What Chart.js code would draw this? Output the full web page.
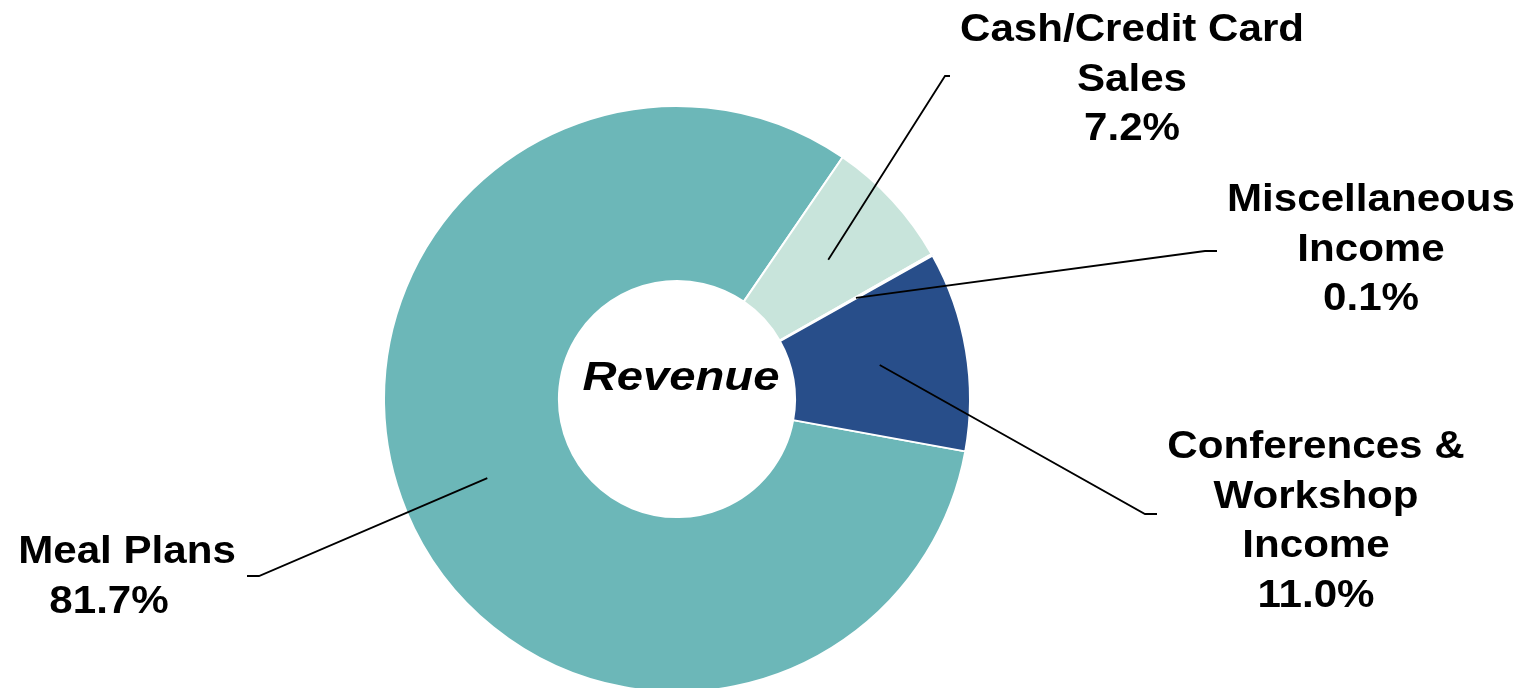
<!DOCTYPE html>
<html>
<head>
<meta charset="utf-8">
<script src="https://cdn.jsdelivr.net/npm/chart.js@4"></script>
<style>
    html, body { margin: 0; padding: 0; background: #fff; }
    #wrap { width: 1523px; height: 688px; position: relative; }
</style>
</head>
<body>
<div id="wrap"><canvas id="graficoReceita"></canvas></div>
<script>
// dados do grafico
const categorias = [
    ['Meal Plans'],
    ['Cash/Credit Card', 'Sales'],
    ['Miscellaneous', 'Income'],
    ['Conferences &', 'Workshop', 'Income']
];
const valores = [81.7, 7.2, 0.1, 11.0];
const cores = ['#6cb7b8', '#c8e4db', '#1f3d6e', '#284e8a'];
const tituloCentro = 'Revenue';

// onde ficam os rotulos (caixa de texto + cotovelo da linha)
const posRotulos = [
    { x: 109, y: 563, cotovelo: [259, 576], fim: [247, 576], xs: [127, 109] },
    { x: 1132, y: 41, cotovelo: [945, 76], fim: [950, 76] },
    { x: 1371, y: 211, cotovelo: [1205, 251], fim: [1217, 251] },
    { x: 1316, y: 458, cotovelo: [1145, 514], fim: [1157, 514] }
];

const pluginRotulos = {
    id: 'rotulos',
    afterDraw(chart) {
        const ctx = chart.ctx;
        const meta = chart.getDatasetMeta(0);
        ctx.save();
        // linhas de chamada
        ctx.strokeStyle = '#000';
        ctx.lineWidth = 1.8;
        meta.data.forEach((arco, i) => {
            const p = arco.tooltipPosition();
            const r = posRotulos[i];
            ctx.beginPath();
            ctx.moveTo(p.x, p.y);
            ctx.lineTo(r.cotovelo[0], r.cotovelo[1]);
            ctx.lineTo(r.fim[0], r.fim[1]);
            ctx.stroke();
        });
        // textos
        ctx.fillStyle = '#000';
        ctx.textAlign = 'center';
        ctx.textBaseline = 'alphabetic';
        ctx.font = 'bold 39px "Liberation Sans", Arial, sans-serif';
        const alturaLinha = 49.5;
        valores.forEach((v, i) => {
            const r = posRotulos[i];
            const linhas = categorias[i].concat([v.toFixed(1) + '%']);
            linhas.forEach((t, j) => {
                const x = r.xs ? (j === 0 ? r.xs[0] : r.xs[1]) : r.x;
                ctx.save();
                ctx.translate(x, r.y + j * alturaLinha);
                ctx.scale(1.08, 1);
                ctx.fillText(t, 0, 0);
                ctx.restore();
            });
        });
        // titulo no centro
        const a = meta.data[0];
        ctx.font = 'italic bold 40px "Liberation Sans", Arial, sans-serif';
        ctx.save();
        ctx.translate(a.x + 4, a.y - 9);
        ctx.scale(1.18, 1);
        ctx.fillText(tituloCentro, 0, 0);
        ctx.restore();
        ctx.restore();
    }
};

new Chart(document.getElementById('graficoReceita'), {
    type: 'doughnut',
    data: {
        labels: categorias.map(c => c.join(' ')),
        datasets: [{
            data: valores,
            backgroundColor: cores,
            borderColor: '#ffffff',
            borderWidth: 2
        }]
    },
    options: {
        responsive: true,
        maintainAspectRatio: false,
        animation: false,
        rotation: 100.3,
        radius: 293,
        cutout: '40.3%',
        layout: { padding: { left: 0, right: 169, top: 110, bottom: 0 } },
        plugins: {
            legend: { display: false },
            tooltip: { enabled: false }
        }
    },
    plugins: [pluginRotulos]
});
</script>
</body>
</html>
